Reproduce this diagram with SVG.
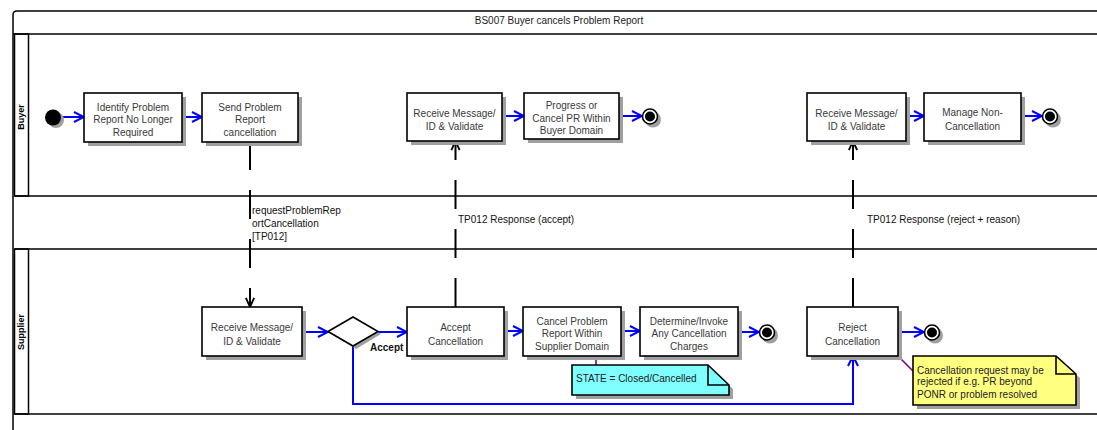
<svg xmlns="http://www.w3.org/2000/svg" width="1097" height="430" viewBox="0 0 1097 430">
<style>
text{font-family:"Liberation Sans",Arial,sans-serif;font-size:10px}
.bt{fill:#3a3a3a;text-anchor:middle}
.lbl{fill:#111}
.frame{fill:none;stroke:#000;stroke-width:1.5}
.box{fill:#fff;stroke:#000;stroke-width:1.6}
.sh{fill:#a0a0a0}
.flow{fill:none;stroke:#0000ff;stroke-width:2;marker-end:url(#ab)}
.msg{fill:none;stroke:#000;stroke-width:2;stroke-dasharray:29 20;marker-end:url(#ak)}
.anc{fill:none;stroke:#800080;stroke-width:1.6}
.lane{font-weight:bold;font-size:9px;fill:#000;text-anchor:middle}
</style>
<defs>
<marker id="ab" viewBox="0 0 12 12" refX="11" refY="6" markerWidth="12" markerHeight="12" markerUnits="userSpaceOnUse" orient="auto">
<path d="M1,1 L11,6 L1,11" fill="none" stroke="#0000ff" stroke-width="2"/>
</marker>
<marker id="ak" viewBox="0 0 12 12" refX="11" refY="6" markerWidth="11" markerHeight="11" markerUnits="userSpaceOnUse" orient="auto">
<path d="M1,1.5 L11,6 L1,10.5" fill="none" stroke="#000" stroke-width="2"/>
</marker>
</defs>
<rect width="1097" height="430" fill="#fff"/>
<g id="frame">
<path class="frame" d="M13,430 V15 Q13,11 17,11 H1097"/>
<line class="frame" x1="13" y1="34" x2="1097" y2="34"/>
<text x="559" y="23.5" text-anchor="middle" fill="#222">BS007 Buyer cancels Problem Report</text>
</g>
<g id="lane-buyer">
<rect class="frame" x="14.5" y="34" width="14" height="162"/>
<line class="frame" x1="14.5" y1="196" x2="1097" y2="196"/>
<text class="lane" transform="translate(24,117) rotate(-90)">Buyer</text>
</g>
<g id="lane-middle">
<line class="frame" x1="14.5" y1="249" x2="1097" y2="249"/>
</g>
<g id="lane-supplier">
<rect class="frame" x="14.5" y="249" width="14" height="165"/>
<line class="frame" x1="14.5" y1="414" x2="1097" y2="414"/>
<text class="lane" transform="translate(24,332) rotate(-90)">Supplier</text>
</g>

<g id="connectors">
<line class="flow" x1="61" y1="117" x2="84" y2="117"/>
<line class="flow" x1="183" y1="117" x2="202" y2="117"/>
<line class="flow" x1="502" y1="116" x2="524" y2="116"/>
<line class="flow" x1="619" y1="116" x2="642" y2="116"/>
<line class="flow" x1="906" y1="116" x2="924" y2="116"/>
<line class="flow" x1="1021" y1="116" x2="1042" y2="116"/>
<line class="flow" x1="302" y1="332" x2="328" y2="332"/>
<line class="flow" x1="378" y1="332" x2="407" y2="332"/>
<line class="flow" x1="504" y1="331" x2="523" y2="331"/>
<line class="flow" x1="621" y1="331" x2="640" y2="331"/>
<line class="flow" x1="738" y1="332" x2="759" y2="332"/>
<line class="flow" x1="898" y1="332" x2="924" y2="332"/>
<path class="flow" d="M353,346 V404 H853 V356"/>
<path class="msg" d="M250,141 V307"/>
<path class="msg" d="M455.5,307 V141"/>
<path class="msg" d="M853,307 V141"/>
<line class="anc" x1="596" y1="357" x2="596" y2="365"/>
<line class="anc" x1="899" y1="357" x2="913" y2="371"/>
<text class="lbl" x="252" y="214">requestProblemRep</text>
<text class="lbl" x="252" y="227">ortCancellation</text>
<text class="lbl" x="252" y="239.5">[TP012]</text>
<text class="lbl" x="458" y="223">TP012 Response (accept)</text>
<text class="lbl" x="867" y="223">TP012 Response (reject + reason)</text>
<text x="370" y="351" font-weight="bold" font-size="9px" fill="#111">Accept</text>
</g>

<g id="start">
<circle cx="56" cy="120" r="8" class="sh"/>
<circle cx="53" cy="117.5" r="8" fill="#000"/>
</g>
<g id="identify">
<rect class="sh" x="88" y="97" width="98" height="49"/>
<rect class="box" x="84" y="93" width="98" height="49"/>
<text class="bt" x="133" y="110.5">Identify Problem</text>
<text class="bt" x="133" y="122.5">Report No Longer</text>
<text class="bt" x="133" y="136">Required</text>
</g>
<g id="send">
<rect class="sh" x="206" y="97" width="96" height="49"/>
<rect class="box" x="202" y="93" width="96" height="49"/>
<text class="bt" x="250" y="110.5">Send Problem</text>
<text class="bt" x="250" y="122.5">Report</text>
<text class="bt" x="250" y="136">cancellation</text>
</g>
<g id="buyer-receive-1">
<rect class="sh" x="411" y="97" width="95" height="48"/>
<rect class="box" x="407" y="93" width="95" height="48"/>
<text class="bt" x="454.5" y="117">Receive Message/</text>
<text class="bt" x="454.5" y="130">ID &amp; Validate</text>
</g>
<g id="progress">
<rect class="sh" x="528" y="97" width="95" height="46"/>
<rect class="box" x="524" y="93" width="95" height="46"/>
<text class="bt" x="571.5" y="108.5">Progress or</text>
<text class="bt" x="571.5" y="122">Cancel PR Within</text>
<text class="bt" x="571.5" y="134">Buyer Domain</text>
</g>
<g id="end-1">
<circle cx="653" cy="119.5" r="8" class="sh"/>
<circle cx="650" cy="116.5" r="7.5" fill="#fff" stroke="#000" stroke-width="1.6"/>
<circle cx="650" cy="116.5" r="5" fill="#000"/>
</g>
<g id="buyer-receive-2">
<rect class="sh" x="811" y="97" width="99" height="48"/>
<rect class="box" x="807" y="93" width="99" height="48"/>
<text class="bt" x="856.5" y="116.5">Receive Message/</text>
<text class="bt" x="856.5" y="130">ID &amp; Validate</text>
</g>
<g id="manage">
<rect class="sh" x="928" y="97" width="97" height="48"/>
<rect class="box" x="924" y="93" width="97" height="48"/>
<text class="bt" x="972.5" y="116">Manage Non-</text>
<text class="bt" x="972.5" y="129.5">Cancellation</text>
</g>
<g id="end-2">
<circle cx="1053" cy="119.5" r="8" class="sh"/>
<circle cx="1050" cy="116.5" r="7.5" fill="#fff" stroke="#000" stroke-width="1.6"/>
<circle cx="1050" cy="116.5" r="5" fill="#000"/>
</g>

<g id="supplier-receive">
<rect class="sh" x="206" y="311" width="100" height="49"/>
<rect class="box" x="202" y="307" width="100" height="49"/>
<text class="bt" x="252" y="331">Receive Message/</text>
<text class="bt" x="252" y="344.5">ID &amp; Validate</text>
</g>
<g id="decision">
<polygon class="sh" points="331,334 356,319 381,334 356,349"/>
<polygon points="328,331.5 353,317 378,331.5 353,346" fill="#fff" stroke="#000" stroke-width="1.6"/>
</g>
<g id="accept">
<rect class="sh" x="411" y="311" width="97" height="49"/>
<rect class="box" x="407" y="307" width="97" height="49"/>
<text class="bt" x="455.5" y="331">Accept</text>
<text class="bt" x="455.5" y="344.5">Cancellation</text>
</g>
<g id="cancel-pr">
<rect class="sh" x="527" y="311" width="98" height="49"/>
<rect class="box" x="523" y="307" width="98" height="49"/>
<text class="bt" x="572" y="325">Cancel Problem</text>
<text class="bt" x="572" y="337">Report Within</text>
<text class="bt" x="572" y="349.5">Supplier Domain</text>
</g>
<g id="determine">
<rect class="sh" x="644" y="311" width="98" height="49"/>
<rect class="box" x="640" y="307" width="98" height="49"/>
<text class="bt" x="689" y="325">Determine/Invoke</text>
<text class="bt" x="689" y="337">Any Cancellation</text>
<text class="bt" x="689" y="349.5">Charges</text>
</g>
<g id="end-3">
<circle cx="770" cy="335.5" r="8" class="sh"/>
<circle cx="767" cy="332.5" r="7.5" fill="#fff" stroke="#000" stroke-width="1.6"/>
<circle cx="767" cy="332.5" r="5" fill="#000"/>
</g>
<g id="reject">
<rect class="sh" x="811" y="311" width="91" height="49"/>
<rect class="box" x="807" y="307" width="91" height="49"/>
<text class="bt" x="852.5" y="331">Reject</text>
<text class="bt" x="852.5" y="344.5">Cancellation</text>
</g>
<g id="end-4">
<circle cx="935" cy="335.5" r="8" class="sh"/>
<circle cx="932" cy="332.5" r="7.5" fill="#fff" stroke="#000" stroke-width="1.6"/>
<circle cx="932" cy="332.5" r="5" fill="#000"/>
</g>
<g id="note-state">
<polygon class="sh" points="576,369 712,369 733,389 733,399 576,399"/>
<polygon points="572,365 708,365 729,385 729,395 572,395" fill="#80ffff" stroke="#000" stroke-width="1.6"/>
<path d="M708,365 V385 H729" fill="none" stroke="#000" stroke-width="1.6"/>
<text x="576" y="381.5" fill="#222">STATE = Closed/Cancelled</text>
</g>
<g id="note-reject">
<polygon class="sh" points="917,360 1060,360 1080,378 1080,409 917,409"/>
<polygon points="913,356 1056,356 1076,374 1076,405 913,405" fill="#ffff80" stroke="#000" stroke-width="1.6"/>
<path d="M1056,356 V374 H1076" fill="none" stroke="#000" stroke-width="1.6"/>
<text x="917" y="373.5" fill="#222">Cancellation request may be</text>
<text x="917" y="385" fill="#222">rejected if e.g. PR beyond</text>
<text x="917" y="397.5" fill="#222">PONR or problem resolved</text>
</g>
</svg>
